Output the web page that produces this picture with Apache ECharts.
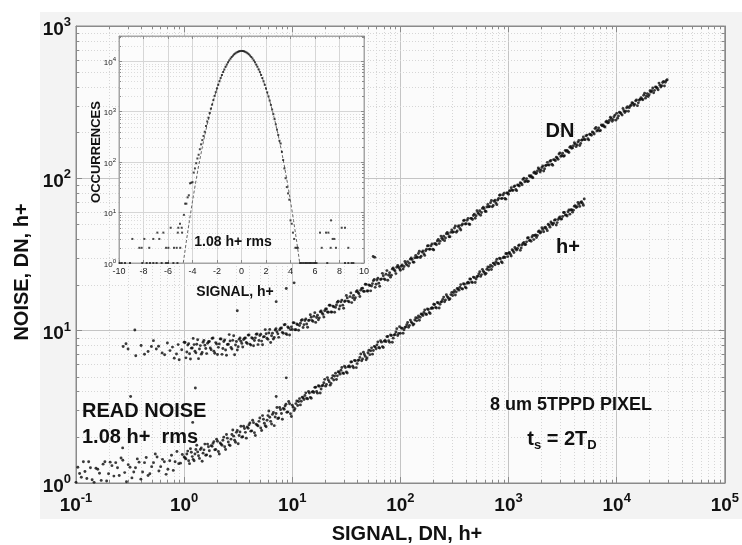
<!DOCTYPE html>
<html><head><meta charset="utf-8">
<script src="https://cdn.jsdelivr.net/npm/echarts@6/dist/echarts.min.js"></script>
<style>html,body{margin:0;padding:0;background:#fff}#c{width:742px;height:545px}</style>
</head><body><div id="c"></div>
<script>
// ---------------- DATA ----------------
// h+ series: [signal h+, noise h+]
const hpDec01 = [[0.100,1.01],[0.104,1.27],[0.108,1.155],[0.112,1.09],[0.117,1.38],[0.121,1.19],[0.126,1.07],[0.131,1.38],[0.136,1.26],[0.141,1.05],[0.147,1.01],[0.153,1.25],[0.159,1.23],[0.165,1.16],[0.171,1.04],[0.178,1.33],[0.185,1.38],[0.192,1.03],[0.200,1.15],[0.207,1.37],[0.215,1.30],[0.224,1.11],[0.233,1.36],[0.242,1.26],[0.251,1.12],[0.261,1.46],[0.271,1.41],[0.282,1.17],[0.293,1.02],[0.304,1.32],[0.316,1.27],[0.329,1.08],[0.342,1.18],[0.355,1.26],[0.369,1.44],[0.383,1.37],[0.398,1.06],[0.413,1.18],[0.430,1.36],[0.446,1.47],[0.464,1.12],[0.482,1.15],[0.501,1.28],[0.521,1.36],[0.541,1.55],[0.562,1.48],[0.584,1.20],[0.607,1.28],[0.631,1.43],[0.656,1.38],[0.681,1.14],[0.708,1.23],[0.736,1.40],[0.764,1.52],[0.794,1.21],[0.825,1.38],[0.858,1.61],[0.891,1.34],[0.926,1.35],[0.962,1.54]];
const hpDec1 = [[1.000,1.48],[1.039,1.44],[1.080,1.62],[1.122,1.34],[1.166,1.59],[1.212,1.43],[1.259,1.55],[1.308,1.77],[1.359,1.51],[1.413,1.66],[1.468,1.39],[1.525,1.65],[1.585,1.52],[1.647,1.80],[1.711,1.63],[1.778,1.76],[1.848,1.82],[1.920,1.65],[1.995,1.94],[2.073,1.61],[2.154,1.83],[2.239,1.77],[2.326,2.00],[2.417,1.66],[2.512,1.97],[2.610,1.78],[2.712,1.94],[2.818,2.23],[2.929,1.91],[3.043,2.15],[3.162,1.81],[3.286,2.16],[3.415,2.00],[3.548,2.36],[3.687,2.15],[3.831,2.33],[3.981,2.41],[4.137,2.19],[4.299,2.58],[4.467,2.14],[4.642,2.43],[4.823,2.37],[5.012,2.67],[5.208,2.21],[5.412,2.62],[5.623,2.38],[5.843,2.58],[6.072,2.97],[6.310,2.54],[6.556,2.82],[6.813,2.38],[7.079,2.86],[7.356,2.65],[7.644,3.13],[7.943,2.86],[8.254,3.09],[8.577,3.20],[8.913,2.91],[9.261,3.43],[9.624,2.85]];
const hpDec1b = [[1.020,1.46],[1.059,1.55],[1.101,1.40],[1.144,1.68],[1.189,1.49],[1.236,1.40],[1.284,1.66],[1.334,1.60],[1.386,1.45],[1.441,1.70],[1.497,1.57],[1.555,1.80],[1.616,1.53],[1.679,1.73],[1.745,1.50],[1.813,1.74],[1.884,1.87],[1.958,1.66],[2.034,1.88],[2.114,1.55],[2.196,1.80],[2.283,1.91],[2.372,1.73],[2.464,2.08],[2.561,1.86],[2.661,1.76],[2.765,2.08],[2.873,2.03],[2.986,1.85],[3.103,2.21],[3.224,2.05],[3.350,2.36],[3.482,2.01],[3.618,2.28],[3.759,1.97],[3.906,2.29],[4.059,2.48],[4.218,2.20],[4.383,2.49],[4.554,2.05],[4.733,2.40],[4.918,2.54],[5.110,2.30],[5.310,2.77],[5.518,2.47],[5.733,2.34],[5.958,2.77],[6.191,2.70],[6.434,2.44],[6.685,2.90],[6.946,2.71],[7.218,3.13],[7.500,2.67],[7.794,3.03],[8.099,2.62],[8.416,3.05],[8.745,3.29],[9.088,2.93],[9.443,3.31],[9.813,2.73]];
const hpDec10 = [[10.00,3.24],[10.39,2.99],[10.80,3.32],[11.22,3.23],[11.66,3.58],[12.12,3.44],[12.59,3.63],[13.08,3.75],[13.59,3.60],[14.13,3.99],[14.68,3.65],[15.25,3.95],[15.85,3.93],[16.47,4.25],[17.11,3.89],[17.78,4.32],[18.48,4.14],[19.20,4.38],[19.95,4.79],[20.73,4.44],[21.54,4.75],[22.39,4.39],[23.26,4.88],[24.17,4.74],[25.12,5.25],[26.10,5.05],[27.12,5.33],[28.18,5.50],[29.29,5.28],[30.43,5.85],[31.62,5.35],[32.86,5.80],[34.15,5.77],[35.48,6.24],[36.87,5.71],[38.31,6.34],[39.81,6.08],[41.37,6.43],[42.99,7.03],[44.67,6.52],[46.42,6.97],[48.23,6.44],[50.12,7.16],[52.08,6.96],[54.12,7.71],[56.23,7.41],[58.43,7.83],[60.72,8.07],[63.10,7.75],[65.56,8.58],[68.13,7.86],[70.79,8.52],[73.56,8.47],[76.44,9.16],[79.43,8.38],[82.54,9.30],[85.77,8.93],[89.13,9.44],[92.61,10.31],[96.24,9.57]];
const hpDec10b = [[10.20,3.147],[10.59,3.071],[11.01,3.456],[11.44,3.428],[11.89,3.255],[12.36,3.662],[12.84,3.532],[13.34,3.908],[13.86,3.566],[14.41,3.902],[14.97,3.598],[15.55,3.997],[16.16,4.244],[16.79,3.984],[17.45,4.351],[18.13,3.900],[18.84,4.338],[19.58,4.549],[20.34,4.322],[21.14,4.919],[21.96,4.621],[22.83,4.508],[23.72,5.072],[24.64,5.033],[25.61,4.777],[26.61,5.376],[27.65,5.184],[28.73,5.735],[29.86,5.233],[31.03,5.724],[32.24,5.279],[33.50,5.869],[34.82,6.229],[36.18,5.846],[37.59,6.386],[39.06,5.722],[40.59,6.369],[42.18,6.676],[43.83,6.340],[45.54,7.217],[47.33,6.780],[49.18,6.618],[51.10,7.448],[53.10,7.387],[55.18,7.010],[57.33,7.887],[59.58,7.608],[61.91,8.417],[64.34,7.682],[66.85,8.405],[69.46,7.749],[72.18,8.614],[75.00,9.143],[77.94,8.580],[80.99,9.375],[84.16,8.401],[87.45,9.351],[90.88,9.797],[94.43,9.306],[98.13,10.60]];
const hpDec100 = [[100.0,9.60],[103.9,10.35],[108.0,10.14],[112.2,10.59],[116.6,11.32],[121.2,10.83],[125.9,11.40],[130.8,10.89],[135.9,11.75],[141.3,11.60],[146.8,12.51],[152.5,12.25],[158.5,12.79],[164.7,13.15],[171.1,12.87],[177.8,13.87],[184.8,13.16],[192.0,13.97],[199.5,14.02],[207.3,14.86],[215.4,14.09],[223.9,15.20],[232.6,14.88],[241.7,15.55],[251.2,16.61],[261.0,15.90],[271.2,16.73],[281.8,15.98],[292.9,17.25],[304.3,17.02],[316.2,18.35],[328.6,17.98],[341.5,18.78],[354.8,19.29],[368.7,18.89],[383.1,20.35],[398.1,19.31],[413.7,20.50],[429.9,20.56],[446.7,21.81],[464.2,20.68],[482.3,22.31],[501.2,21.85],[520.8,22.82],[541.2,24.38],[562.3,23.33],[584.3,24.56],[607.2,23.46],[631.0,25.32],[655.6,25.00],[681.3,26.94],[707.9,26.40],[735.6,27.55],[764.4,28.31],[794.3,27.73],[825.4,29.88],[857.7,28.35],[891.3,30.09],[926.1,30.19],[962.4,32.01]];
const hpDec100b = [[102.0,10.43],[105.9,9.61],[110.1,10.49],[114.4,10.93],[118.9,10.54],[123.6,11.73],[128.4,11.21],[133.4,11.04],[138.6,12.16],[144.1,12.13],[149.7,11.70],[155.5,12.88],[161.6,12.57],[167.9,13.67],[174.5,12.77],[181.3,13.77],[188.4,12.97],[195.8,14.14],[203.4,14.90],[211.4,14.22],[219.6,15.31],[228.3,14.10],[237.2,15.40],[246.4,16.05],[256.1,15.47],[266.1,17.22],[276.5,16.45],[287.3,16.20],[298.6,17.84],[310.3,17.80],[322.4,17.16],[335.0,18.90],[348.2,18.45],[361.8,20.07],[375.9,18.74],[390.6,20.19],[405.9,19.03],[421.8,20.77],[438.3,21.85],[455.4,20.86],[473.3,22.47],[491.8,20.71],[511.0,22.60],[531.0,23.55],[551.8,22.71],[573.3,25.26],[595.8,24.13],[619.1,23.79],[643.4,26.20],[668.5,26.14],[694.6,25.19],[721.8,27.76],[750.0,27.08],[779.4,29.46],[809.9,27.51],[841.6,29.65],[874.5,27.94],[908.8,30.47],[944.3,32.07],[981.3,30.63]];
const hpDec1000 = [[1000,32.3],[1039,31.8],[1080,34.0],[1122,32.6],[1166,34.4],[1212,34.6],[1259,36.5],[1308,34.9],[1359,37.4],[1413,36.8],[1468,38.3],[1525,40.7],[1585,39.3],[1647,41.2],[1711,39.6],[1778,42.5],[1848,42.1],[1920,45.1],[1995,44.4],[2073,46.2],[2154,47.4],[2239,46.6],[2326,49.9],[2417,47.8],[2512,50.5],[2610,50.7],[2712,53.5],[2818,51.2],[2929,54.9],[3043,54.0],[3162,56.2],[3286,59.7],[3415,57.6],[3548,60.4],[3687,58.2],[3831,62.3],[3981,61.8],[4137,66.1],[4299,65.1],[4467,67.7],[4642,69.5],[4823,68.5],[5012,73.3]];
const hpDec1000b = [[1020,32.56],[1059,30.90],[1101,33.50],[1144,35.16],[1189,33.79],[1236,36.19],[1284,33.67],[1334,36.52],[1386,37.96],[1441,36.82],[1497,40.62],[1555,39.03],[1616,38.58],[1679,42.22],[1745,42.18],[1813,40.88],[1884,44.68],[1958,43.81],[2034,47.37],[2114,44.59],[2196,47.81],[2283,45.36],[2372,49.17],[2464,51.63],[2561,49.59],[2661,53.14],[2765,49.43],[2873,53.60],[2986,55.71],[3103,54.01],[3224,59.60],[3350,57.30],[3482,56.63],[3618,61.94],[3759,61.90],[3906,59.97],[4059,65.60],[4218,64.29],[4383,69.49],[4554,65.43],[4733,70.14],[4918,66.60]];
const hpOutliers = [[0.32,3.7],[0.27,1.7],[1.27,4.2],[1.2,2.5],[7.1,3.7],[8.8,4.9]];

// DN series: [signal DN, noise DN]
const dnDec01 = [[0.273,7.88],[0.29,8.2],[0.303,7.58],[0.35,10.1],[0.357,6.85],[0.40,8.0],[0.43,7.0],[0.464,7.3],[0.498,7.88],[0.52,8.6],[0.553,7.58],[0.58,7.9],[0.626,7.14],[0.66,6.95],[0.70,8.3],[0.74,7.4],[0.78,7.8],[0.81,6.6],[0.85,7.03],[0.88,8.1],[0.90,6.45],[0.95,7.5]];
const dnDec1 = [[1.000,8.39],[1.039,6.63],[1.080,8.04],[1.122,7.06],[1.166,7.68],[1.212,8.90],[1.259,7.32],[1.308,8.14],[1.359,6.55],[1.413,7.98],[1.468,7.19],[1.525,8.63],[1.585,7.64],[1.647,8.27],[1.711,8.49],[1.778,7.49],[1.848,8.95],[1.920,7.11],[1.995,8.17],[2.073,7.77],[2.154,8.83],[2.239,6.99],[2.326,8.48],[2.417,7.46],[2.512,8.12],[2.610,9.42],[2.712,7.75],[2.818,8.64],[2.929,6.95],[3.043,8.49],[3.162,7.85],[3.286,8.95],[3.415,8.25],[3.548,8.75],[3.687,8.96],[3.831,8.24],[3.981,9.37],[4.137,8.04],[4.299,8.88],[4.467,8.62],[4.642,9.48],[4.823,8.10],[5.012,9.28],[5.208,8.54],[5.412,9.10],[5.623,10.16],[5.843,8.91],[6.072,9.65],[6.310,8.37],[6.556,9.63],[6.813,9.02],[7.079,10.31],[7.356,9.53],[7.644,10.14],[7.943,10.41],[8.254,9.61],[8.577,10.97],[8.913,9.42],[9.261,10.43],[9.624,10.16]];
const dnDec1b = [[1.020,8.37],[1.059,7.25],[1.101,8.22],[1.144,6.52],[1.189,7.69],[1.236,8.10],[1.284,7.15],[1.334,8.72],[1.386,7.58],[1.441,7.01],[1.497,8.40],[1.555,8.03],[1.616,7.07],[1.679,8.46],[1.745,7.69],[1.813,8.90],[1.884,7.34],[1.958,8.35],[2.034,6.97],[2.114,8.19],[2.196,8.82],[2.283,7.64],[2.372,8.68],[2.464,6.89],[2.561,8.14],[2.661,8.57],[2.765,7.58],[2.873,9.25],[2.986,8.05],[3.103,7.46],[3.224,8.77],[3.350,8.53],[3.482,7.82],[3.618,8.93],[3.759,8.37],[3.906,9.35],[4.059,8.16],[4.218,9.00],[4.383,7.96],[4.554,8.97],[4.733,9.51],[4.918,8.61],[5.110,9.48],[5.310,8.09],[5.518,9.14],[5.733,9.54],[5.958,8.77],[6.191,10.19],[6.434,9.25],[6.685,8.82],[6.946,10.10],[7.218,9.83],[7.500,9.04],[7.794,10.37],[8.099,9.75],[8.416,10.92],[8.745,9.56],[9.088,10.57],[9.443,9.37],[9.813,10.59]];
const dnDec10 = [[10.00,10.17],[10.39,11.25],[10.80,10.13],[11.22,10.95],[11.66,10.80],[12.12,11.66],[12.59,10.49],[13.08,11.66],[13.59,11.05],[14.13,11.65],[14.68,12.73],[15.25,11.65],[15.85,12.44],[16.47,11.33],[17.11,12.62],[17.78,12.14],[18.48,13.48],[19.20,12.82],[19.95,13.52],[20.73,13.89],[21.54,13.21],[22.39,14.67],[23.26,13.24],[24.17,14.36],[25.12,14.21],[26.10,15.38],[27.12,13.88],[28.18,15.46],[29.29,14.71],[30.43,15.55],[31.62,17.03],[32.86,15.63],[34.15,16.73],[35.48,15.28],[36.87,17.06],[38.31,16.45],[39.81,18.30],[41.37,17.46],[42.99,18.45],[44.67,19.00],[46.42,18.11],[48.23,20.14],[50.12,18.23],[52.08,19.81],[54.12,19.63],[56.23,21.29],[58.43,19.25],[60.72,21.49],[63.10,20.48],[65.56,21.68],[68.13,23.78],[70.79,21.87],[73.56,23.44],[76.44,21.45],[79.43,23.98],[82.54,23.15],[85.77,25.81],[89.13,24.65],[92.61,26.08],[96.24,26.2]];
const dnDec10b = [[10.20,11.29],[10.59,10.15],[11.01,11.07],[11.44,10.06],[11.89,11.18],[12.36,11.82],[12.84,10.95],[13.34,11.94],[13.86,10.54],[14.41,11.73],[14.97,12.25],[15.55,11.50],[16.16,13.13],[16.79,12.19],[17.45,11.80],[18.13,13.29],[18.84,13.09],[19.58,12.30],[20.34,13.88],[21.14,13.27],[21.96,14.70],[22.83,13.25],[23.72,14.50],[24.64,13.22],[25.61,14.73],[26.61,15.61],[27.65,14.51],[28.73,15.87],[29.86,14.04],[31.03,15.68],[32.24,16.41],[33.50,15.45],[34.82,17.67],[36.18,16.46],[37.59,15.96],[39.06,18.04],[40.59,17.81],[42.18,16.77],[43.83,18.96],[45.54,18.16],[47.33,20.16],[49.18,18.21],[51.10,19.98],[53.10,18.25],[55.18,20.37],[57.33,21.65],[59.58,20.15],[61.91,22.08],[64.34,19.57],[66.85,21.87],[69.46,22.93],[72.18,21.63],[75.00,24.79],[77.94,23.12],[80.99,22.45],[84.16,25.40],[87.45,25.12],[90.88,23.69],[94.43,26.80],[98.13,25.56]];
const dnDec100 = [[100.0,24.9],[103.9,27.0],[108.0,26.4],[112.2,27.6],[116.6,28.4],[121.2,27.7],[125.9,30.0],[130.8,28.2],[135.9,30.1],[141.3,30.2],[146.8,32.1],[152.5,30.2],[158.5,32.8],[164.7,32.0],[171.1,33.5],[177.8,36.0],[184.8,34.2],[192.0,36.1],[199.5,34.2],[207.3,37.2],[215.4,36.6],[223.9,39.7],[232.6,38.7],[241.7,40.5],[251.2,41.7],[261.0,40.6],[271.2,44.1],[281.8,41.4],[292.9,44.2],[304.3,44.2],[316.2,47.2],[328.6,44.3],[341.5,48.2],[354.8,46.9],[368.7,49.2],[383.1,52.8],[398.1,50.2],[413.7,53.0],[429.9,50.2],[446.7,54.6],[464.2,53.7],[482.3,58.2],[501.2,56.8],[520.8,59.5],[541.2,61.2],[562.3,59.6],[584.3,64.7],[607.2,60.8],[631.0,64.9],[655.6,65.0],[681.3,69.2],[707.9,65.1],[735.6,70.7],[764.4,68.9],[794.3,72.1],[825.4,77.5],[857.7,73.6],[891.3,77.8],[926.1,73.7],[962.4,80.1]];
const dnDec100b = [[102.0,26.47],[105.9,25.39],[110.1,28.47],[114.4,27.04],[118.9,26.58],[123.6,29.48],[128.4,29.35],[133.4,28.15],[138.6,31.23],[144.1,30.36],[149.7,33.21],[155.5,30.77],[161.6,33.32],[167.9,31.20],[174.5,34.21],[181.3,36.14],[188.4,34.28],[195.8,37.11],[203.4,33.89],[211.4,37.21],[219.6,38.85],[228.3,37.28],[237.2,41.77],[246.4,39.71],[256.1,39.00],[266.1,43.27],[276.5,43.07],[287.3,41.31],[298.6,45.81],[310.3,44.54],[322.4,48.72],[335.0,45.17],[348.2,48.91],[361.8,45.77],[375.9,50.22],[390.6,53.01],[405.9,50.32],[421.8,54.46],[438.3,49.72],[455.4,54.61],[473.3,57.01],[491.8,54.72],[511.0,61.34],[531.0,58.27],[551.8,57.23],[573.3,63.49],[595.8,63.22],[619.1,60.63],[643.4,67.27],[668.5,65.40],[694.6,71.51],[721.8,66.29],[750.0,71.78],[779.4,67.17],[809.9,73.70],[841.6,77.82],[874.5,73.88],[908.8,79.93],[944.3,72.99],[981.3,80.17]];
const dnDec1000 = [[1000,78.7],[1039,83.1],[1080,83.6],[1122,88.2],[1166,84.4],[1212,90.4],[1259,89.0],[1308,92.7],[1359,98.4],[1413,95.0],[1468,99.5],[1525,95.8],[1585,102.7],[1647,101.8],[1711,108.9],[1778,107.3],[1848,111.6],[1920,114.7],[1995,112.9],[2073,120.7],[2154,115.6],[2239,122.0],[2326,122.6],[2417,129.5],[2512,123.9],[2610,132.7],[2712,130.6],[2818,136.0],[2929,144.4],[3043,139.3],[3162,146.0],[3286,140.7],[3415,150.7],[3548,149.4],[3687,159.9],[3831,157.4],[3981,163.9],[4137,168.3],[4299,165.5],[4467,177.2],[4642,169.6],[4823,179.1],[5012,180.1],[5208,190.0],[5412,181.8],[5623,194.8],[5843,191.7],[6072,199.6],[6310,212.0],[6556,204.5],[6813,214.4],[7079,206.4],[7356,221.2],[7644,219.3],[7943,234.7],[8254,231.1],[8577,240.5],[8913,246.9],[9261,243.0],[9624,260.1]];
const dnDec1000b = [[1020,82.6],[1059,86.7],[1101,83.3],[1144,89.2],[1189,83.0],[1236,90.0],[1284,93.6],[1334,90.7],[1386,100.1],[1441,96.3],[1497,95.1],[1555,104.0],[1616,104.0],[1679,100.8],[1745,110.1],[1813,108.0],[1884,116.8],[1958,110.0],[2034,117.9],[2114,111.8],[2196,121.2],[2283,127.3],[2372,122.2],[2464,131.0],[2561,121.8],[2661,132.2],[2765,137.4],[2873,133.2],[2986,146.9],[3103,141.3],[3224,139.6],[3350,152.7],[3482,152.6],[3618,147.9],[3759,161.7],[3906,158.4],[4059,171.4],[4218,161.4],[4383,172.9],[4554,164.2],[4733,178.0],[4918,186.8],[5110,179.4],[5310,192.2],[5518,178.8],[5733,193.9],[5958,201.7],[6191,195.5],[6434,215.8],[6685,207.3],[6946,204.9],[7218,224.1],[7500,224.0],[7794,217.1],[8099,237.4],[8416,232.6],[8745,251.5],[9088,236.8],[9443,253.9],[9813,241.0]];
const dnDec10000 = [[10000,267],[10390,257],[10800,270],[11220,260],[11660,278],[12120,276],[12590,295],[13080,291],[13590,303],[14130,311],[14680,306],[15250,327],[15850,313],[16470,331],[17110,332],[17780,351],[18480,336],[19200,360],[19950,354],[20730,369],[21540,392],[22390,378],[23260,396],[24170,381],[25120,409],[26100,405],[27120,433],[28180,427],[29290,444]];
const dnDec10000b = [[10200,248.2],[10590,271.3],[11010,265.9],[11440,287.4],[11890,270.8],[12360,290.3],[12840,275.5],[13340,298.7],[13860,313.5],[14410,301.2],[14970,322.7],[15550,300.0],[16160,325.4],[16790,338.5],[17450,327.9],[18130,362.0],[18840,347.7],[19580,343.9],[20340,376.2],[21140,375.8],[21960,364.2],[22830,398.3],[23720,390.2],[24640,422.0],[25610,397.4],[26610,426.1],[27650,404.3],[28730,438.2]];
const dnOutliers = [[3.1,13.5],[7.1,15.5],[8.8,18.9],[10.4,20.6],[56,30.7],[58,30.3]];

// Inset histogram: [signal h+, occurrences]
const histCore = [[-4.7,9],[-4.6,15],[-4.5,15],[-4.4,20],[-4.3,22],[-4.2,38],[-4.1,39],[-4.0,40],[-3.9,62],[-3.8,75],[-3.7,95],[-3.6,118],[-3.5,140],[-3.4,180],[-3.3,225],[-3.2,273],[-3.1,330],[-3.0,400],[-2.9,520],[-2.8,640],[-2.7,760],[-2.6,940],[-2.5,1150],[-2.4,1380],[-2.3,1690],[-2.2,2050],[-2.1,2440],[-2.0,2900],[-1.9,3420],[-1.8,4000],[-1.7,4650],[-1.6,5330],[-1.5,6100],[-1.4,6880],[-1.3,7740],[-1.2,8600],[-1.1,9480],[-1.0,10400],[-0.9,11250],[-0.8,12150],[-0.7,12900],[-0.6,13700],[-0.5,14300],[-0.4,14900],[-0.3,15350],[-0.2,15700],[-0.1,15900],[0.0,16000],[0.1,15950],[0.2,15750],[0.3,15400],[0.4,14950],[0.5,14350],[0.6,13700],[0.7,12950],[0.8,12150],[0.9,11300],[1.0,10400],[1.1,9500],[1.2,8600],[1.3,7750],[1.4,6900],[1.5,6100],[1.6,5350],[1.7,4650],[1.8,4000],[1.9,3400],[2.0,2880],[2.1,2420],[2.2,2020],[2.3,1660],[2.4,1360],[2.5,1100],[2.6,890],[2.7,710],[2.8,560],[2.9,440],[3.0,345],[3.1,265],[3.2,234],[3.3,160],[3.4,110],[3.5,75],[3.6,48],[3.7,32],[3.8,24],[3.9,18],[4.0,7],[4.1,6],[4.2,4],[4.3,3],[4.4,2],[4.5,2],[4.6,2]];
const histTailLeft = [[-8.91,3],[-8.34,2],[-8.15,2],[-7.93,3],[-7.53,2],[-7.2,3],[-6.87,4],[-6.71,3],[-6.38,4],[-6.16,2],[-5.97,2],[-5.78,5],[-5.51,2],[-5.29,2],[-5.16,5],[-5.2,4],[-5.02,6],[-4.88,5],[-4.85,4],[-5.0,2],[-9.95,1],[-9.78,1],[-9.51,1],[-9.10,1],[-8.1,1],[-7.74,1],[-7.47,1],[-7.20,1],[-6.93,1],[-6.52,1],[-6.16,1],[-6.0,1],[-5.56,1],[-5.23,1]];
const histTailRight = [[6.41,4],[6.9,4],[7.09,4],[6.55,2],[7.31,7],[7.44,3],[7.58,3],[7.71,2],[8.18,5],[8.45,5],[8.72,2],[7.28,2],[4.78,1],[4.91,1],[5.05,1],[5.2,1],[5.32,1],[5.45,1],[5.59,1],[5.72,1],[5.86,1],[6.0,1],[6.12,1],[7.0,1],[8.45,1],[8.72,1],[8.99,1],[9.13,1]];
// Gaussian fit (dashed)
const fitX = [-4.75,-4.5,-4.25,-4,-3.75,-3.5,-3.25,-3,-2.75,-2.5,-2.25,-2,-1.75,-1.5,-1.25,-1,-0.75,-0.5,-0.25,0,0.25,0.5,0.75,1,1.25,1.5,1.75,2,2.25,2.5,2.75,3,3.25,3.5,3.75,4,4.25,4.5,4.75];
const fitY = [1.01,2.72,6.95,16.8,38.6,83.9,173,338,626,1097,1827,2880,4306,6099,8190,10422,12573,14374,15578,16000,15578,14374,12573,10422,8190,6099,4306,2880,1827,1097,626,338,173,83.9,38.6,16.8,6.95,2.72,1.01];

// ---------------- CHART ----------------
const FONT = '"Liberation Sans", Arial, sans-serif';
const NARROW = '"Liberation Sans Narrow", "Liberation Sans", Arial, sans-serif';

function powLabel(v) {
  const l = Math.log10(v), e = Math.round(l);
  if (Math.abs(l - e) > 1e-6) return '';
  return '{b|10}{s|' + e + '}';
}
const mainRich = {
  b: {fontSize: 19, fontWeight: 'bold', fontFamily: FONT, color: '#111', lineHeight: 20, padding: [7, 0, 0, 0]},
  s: {fontSize: 13, fontWeight: 'bold', fontFamily: FONT, color: '#111', lineHeight: 14, verticalAlign: 'top'}
};
const insetRich = {
  b: {fontSize: 8, fontFamily: NARROW, color: '#222', lineHeight: 9, padding: [3, 0, 0, 0]},
  s: {fontSize: 6, fontFamily: NARROW, color: '#222', lineHeight: 7, verticalAlign: 'top'}
};

// minor grid positions (axis decoration)
const mainXMinor = [], mainYMinor = [], insetYMinor = [];
for (let k = -1; k <= 4; k++) for (let m = 2; m <= 9; m++) mainXMinor.push([m * Math.pow(10, k), 1]);
for (let k = 0; k <= 2; k++) for (let m = 2; m <= 9; m++) mainYMinor.push([0.1, m * Math.pow(10, k)]);
for (let k = 0; k <= 4; k++) for (let m = 2; m <= 9; m++) { const v = m * Math.pow(10, k); if (v < 31000) insetYMinor.push([-10, v]); }

function minorV(tick, dash, color) {
  return function (params, api) {
    const cs = params.coordSys;
    const p = api.coord([api.value(0), api.value(1)]);
    const x = Math.round(p[0]) + 0.5;
    return {type: 'group', children: [
      {type: 'line', shape: {x1: x, y1: cs.y, x2: x, y2: cs.y + cs.height}, style: {stroke: color, lineWidth: 1, lineDash: dash}},
      {type: 'line', shape: {x1: x, y1: cs.y + cs.height, x2: x, y2: cs.y + cs.height - tick}, style: {stroke: '#888', lineWidth: 1}},
      {type: 'line', shape: {x1: x, y1: cs.y, x2: x, y2: cs.y + tick}, style: {stroke: '#888', lineWidth: 1}}
    ]};
  };
}
function minorH(tick, dash, color) {
  return function (params, api) {
    const cs = params.coordSys;
    const p = api.coord([api.value(0), api.value(1)]);
    const y = Math.round(p[1]) + 0.5;
    return {type: 'group', children: [
      {type: 'line', shape: {x1: cs.x, y1: y, x2: cs.x + cs.width, y2: y}, style: {stroke: color, lineWidth: 1, lineDash: dash}},
      {type: 'line', shape: {x1: cs.x, y1: y, x2: cs.x + tick, y2: y}, style: {stroke: '#888', lineWidth: 1}},
      {type: 'line', shape: {x1: cs.x + cs.width, y1: y, x2: cs.x + cs.width - tick, y2: y}, style: {stroke: '#888', lineWidth: 1}}
    ]};
  };
}

const axisLineStyle = {show: true, onZero: false, lineStyle: {color: '#8a8a8a', width: 1}};
const tickStyle = (len) => ({show: true, inside: true, length: len, lineStyle: {color: '#8a8a8a'}});

const chart = echarts.init(document.getElementById('c'), null, {renderer: 'canvas'});
const option = {
  animation: false,
  backgroundColor: '#ffffff',
  textStyle: {fontFamily: FONT},
  grid: [
    {left: 76, top: 26, width: 651, height: 457, show: true, backgroundColor: '#fbfbfb', borderColor: '#8a8a8a', borderWidth: 1, z: 0},
    {left: 119, top: 36, width: 245, height: 227, show: true, backgroundColor: '#fcfcfc', borderColor: '#a5a5a5', borderWidth: 1, z: 5}
  ],
  xAxis: [
    {type: 'log', logBase: 10, gridIndex: 0, min: 0.1, max: 100000, splitNumber: 6, z: 0,
     axisLine: axisLineStyle, axisTick: tickStyle(6),
     splitLine: {show: true, lineStyle: {color: '#c4c4c4', width: 1}},
     axisLabel: {formatter: powLabel, margin: 9, rich: mainRich}},
    {type: 'log', logBase: 10, gridIndex: 0, position: 'top', min: 0.1, max: 100000, splitNumber: 6, z: 0,
     axisLine: axisLineStyle, axisTick: tickStyle(6), splitLine: {show: false}, axisLabel: {show: false}},
    {type: 'value', gridIndex: 1, min: -10, max: 10, interval: 2, z: 6,
     axisLine: {show: true, onZero: false, lineStyle: {color: '#a5a5a5'}}, axisTick: tickStyle(3),
     splitLine: {show: true, lineStyle: {color: '#d6d6d6', width: 1}},
     axisLabel: {fontSize: 9, fontFamily: NARROW, color: '#222', margin: 4}},
    {type: 'value', gridIndex: 1, position: 'top', min: -10, max: 10, interval: 2, z: 6,
     axisLine: {show: true, onZero: false, lineStyle: {color: '#a5a5a5'}}, axisTick: tickStyle(3),
     splitLine: {show: false}, axisLabel: {show: false}}
  ],
  yAxis: [
    {type: 'log', logBase: 10, gridIndex: 0, min: 1, max: 1000, splitNumber: 3, z: 0,
     axisLine: axisLineStyle, axisTick: tickStyle(6),
     splitLine: {show: true, lineStyle: {color: '#c4c4c4', width: 1}},
     axisLabel: {formatter: powLabel, margin: 5, rich: mainRich}},
    {type: 'log', logBase: 10, gridIndex: 0, position: 'right', min: 1, max: 1000, splitNumber: 3, z: 0,
     axisLine: axisLineStyle, axisTick: tickStyle(6), splitLine: {show: false}, axisLabel: {show: false}},
    {type: 'log', logBase: 10, gridIndex: 1, min: 1, max: 31623, splitNumber: 5, z: 6,
     axisLine: {show: true, onZero: false, lineStyle: {color: '#a5a5a5'}}, axisTick: tickStyle(3),
     splitLine: {show: true, lineStyle: {color: '#d6d6d6', width: 1}},
     axisLabel: {formatter: powLabel, margin: 3, rich: insetRich}},
    {type: 'log', logBase: 10, gridIndex: 1, position: 'right', min: 1, max: 31623, splitNumber: 5, z: 6,
     axisLine: {show: true, onZero: false, lineStyle: {color: '#a5a5a5'}}, axisTick: tickStyle(3),
     splitLine: {show: false}, axisLabel: {show: false}}
  ],
  graphic: [
    {type: 'rect', z: -5, silent: true, shape: {x: 40, y: 12, width: 702, height: 507}, style: {fill: '#f3f3f3'}},
    {type: 'text', z: 100, x: 22, y: 272, rotation: Math.PI / 2, style: {text: 'NOISE, DN, h+', font: 'bold 20px ' + FONT, fill: '#111', align: 'center', verticalAlign: 'middle'}},
    {type: 'text', z: 100, x: 407, y: 534, style: {text: 'SIGNAL, DN, h+', font: 'bold 20px ' + FONT, fill: '#111', align: 'center', verticalAlign: 'middle'}},
    {type: 'text', z: 100, x: 560, y: 131, style: {text: 'DN', font: 'bold 20px ' + FONT, fill: '#111', align: 'center', verticalAlign: 'middle'}},
    {type: 'text', z: 100, x: 568, y: 247, style: {text: 'h+', font: 'bold 20px ' + FONT, fill: '#111', align: 'center', verticalAlign: 'middle'}},
    {type: 'text', z: 100, x: 82, y: 411, style: {text: 'READ NOISE', font: 'bold 20px ' + FONT, fill: '#111', align: 'left', verticalAlign: 'middle'}},
    {type: 'text', z: 100, x: 82, y: 437, style: {text: '1.08 h+  rms', font: 'bold 20px ' + FONT, fill: '#111', align: 'left', verticalAlign: 'middle'}},
    {type: 'text', z: 100, x: 571, y: 405, style: {text: '8 um 5TPPD PIXEL', font: 'bold 18px ' + FONT, fill: '#111', align: 'center', verticalAlign: 'middle'}},
    {type: 'text', z: 100, x: 562, y: 442, style: {
      text: '{a|t}{b|s}{a| = 2T}{b|D}', align: 'center', verticalAlign: 'middle',
      rich: {a: {fontSize: 20, fontWeight: 'bold', fontFamily: FONT, fill: '#111', color: '#111', lineHeight: 20, padding: [0, 0, 6, 0]},
             b: {fontSize: 13, fontWeight: 'bold', fontFamily: FONT, fill: '#111', color: '#111', lineHeight: 13, verticalAlign: 'bottom'}}}},
    {type: 'text', z: 100, x: 96, y: 152, rotation: Math.PI / 2, style: {text: 'OCCURRENCES', font: 'bold 13px ' + FONT, fill: '#111', align: 'center', verticalAlign: 'middle'}},
    {type: 'text', z: 100, x: 235, y: 292, style: {text: 'SIGNAL, h+', font: 'bold 14px ' + FONT, fill: '#111', align: 'center', verticalAlign: 'middle'}},
    {type: 'text', z: 100, x: 233, y: 242, style: {text: '1.08 h+ rms', font: 'bold 14px ' + FONT, fill: '#111', align: 'center', verticalAlign: 'middle'}}
  ],
  series: [
    {type: 'custom', name: 'mainXMinor', xAxisIndex: 0, yAxisIndex: 0, z: 1, silent: true, renderItem: minorV(3, [1, 2], '#d6d6d6'), data: mainXMinor},
    {type: 'custom', name: 'mainYMinor', xAxisIndex: 0, yAxisIndex: 0, z: 1, silent: true, renderItem: minorH(3, [1, 2], '#d6d6d6'), data: mainYMinor},
    {type: 'scatter', name: 'DN', xAxisIndex: 0, yAxisIndex: 0, z: 2, silent: true, symbol: 'circle', symbolSize: 2.9,
     itemStyle: {color: '#0a0a0a'}, data: [].concat(dnDec01, dnDec1, dnDec1b, dnDec10, dnDec10b, dnDec100, dnDec100b, dnDec1000, dnDec1000b, dnDec10000, dnDec10000b, dnOutliers)},
    {type: 'scatter', name: 'h+', xAxisIndex: 0, yAxisIndex: 0, z: 2, silent: true, symbol: 'circle', symbolSize: 2.9,
     itemStyle: {color: '#0a0a0a'}, data: [].concat(hpDec01, hpDec1, hpDec1b, hpDec10, hpDec10b, hpDec100, hpDec100b, hpDec1000, hpDec1000b, hpOutliers)},
    {type: 'custom', name: 'insetYMinor', xAxisIndex: 2, yAxisIndex: 2, z: 6, silent: true, renderItem: minorH(2, [1, 2], '#dcdcdc'), data: insetYMinor},
    {type: 'line', name: 'fit', xAxisIndex: 2, yAxisIndex: 2, z: 7, silent: true, showSymbol: false, symbol: 'none',
     lineStyle: {color: '#666', width: 1, type: [3, 2]}, data: fitX.map((x, i) => [x, fitY[i]])},
    {type: 'scatter', name: 'hist', xAxisIndex: 2, yAxisIndex: 2, z: 8, silent: true, symbol: 'rect', symbolSize: 2,
     itemStyle: {color: '#1a1a1a'}, data: [].concat(histTailLeft, histCore, histTailRight)}
  ]
};
chart.setOption(option);
</script>
</body></html>
